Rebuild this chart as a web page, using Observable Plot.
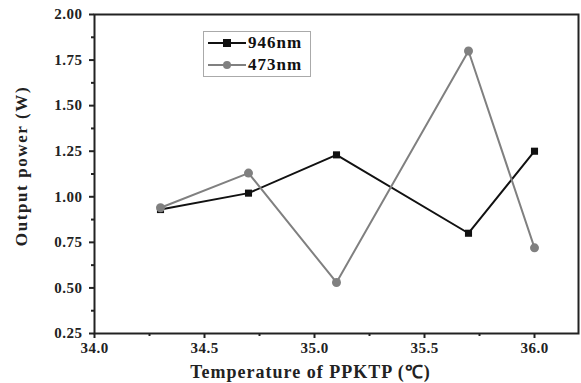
<!DOCTYPE html>
<html><head><meta charset="utf-8">
<script src="https://cdn.jsdelivr.net/npm/d3@7"></script>
<script src="https://cdn.jsdelivr.net/npm/@observablehq/plot@0.6"></script>
<style>
body{margin:0;background:#fff;}
#wrap{position:relative;width:581px;height:383px;font-family:"Liberation Serif","Times New Roman",serif;font-weight:bold;}
#legend{position:absolute;left:203px;top:31px;width:106px;height:44px;border:1px solid #aaa;background:#fff;font-size:17px;color:#111;}
#legend div{display:flex;align-items:center;height:22px;padding-left:2px;}
#legend span{margin-left:0px;letter-spacing:1px;}
</style></head>
<body><div id="wrap"></div>
<script>
const temps = [34.3, 34.7, 35.1, 35.7, 36.0];
const p946 = [0.93, 1.02, 1.23, 0.80, 1.25];
const p473 = [0.94, 1.13, 0.53, 1.80, 0.72];
const seriesNames = ["946nm", "473nm"];
const seriesColors = ["#111111", "#808080"];
const xTicks = [34.0, 34.5, 35.0, 35.5, 36.0];
const xMinor = [34.25, 34.75, 35.25, 35.75];
const yTicks = [0.25, 0.5, 0.75, 1.0, 1.25, 1.5, 1.75, 2.0];
const yMinor = [0.375, 0.625, 0.875, 1.125, 1.375, 1.625, 1.875];

const d946 = temps.map((t,i)=>({t, p:p946[i]}));
const d473 = temps.map((t,i)=>({t, p:p473[i]}));
const blank = () => "";

const chart = Plot.plot({
  width: 581, height: 383,
  marginLeft: 94, marginTop: 14, marginRight: 3, marginBottom: 50,
  style: {fontFamily: '"Liberation Serif","Times New Roman",serif', fontWeight: "bold", fontSize: "15px", color: "#222"},
  x: {domain: [34.0, 36.2]},
  y: {domain: [0.25, 2.0]},
  marks: [
    Plot.frame({stroke: "#222", strokeWidth: 2}),
    Plot.axisX({ticks: xTicks, tickFormat: d3.format(".1f"), tickSize: 5, tickPadding: 4, strokeWidth: 2, fontSize: 15, label: "Temperature of PPKTP (℃)", labelAnchor: "center", labelOffset: 44, labelArrow: "none"}),
    Plot.axisX({ticks: xMinor, tickFormat: blank, tickSize: 3, strokeWidth: 2, label: null}),
    Plot.axisY({ticks: yTicks, tickFormat: d3.format(".2f"), tickSize: 5, tickPadding: 7, strokeWidth: 2, fontSize: 15, label: "Output power (W)", labelAnchor: "center", labelOffset: 80, labelArrow: "none"}),
    Plot.axisY({ticks: yMinor, tickFormat: blank, tickSize: 3, strokeWidth: 2, label: null}),
    Plot.line(d946, {x: "t", y: "p", stroke: seriesColors[0], strokeWidth: 2}),
    Plot.line(d473, {x: "t", y: "p", stroke: seriesColors[1], strokeWidth: 2}),
    Plot.dot(d946, {x: "t", y: "p", symbol: "square", r: 4, fill: seriesColors[0]}),
    Plot.dot(d473, {x: "t", y: "p", symbol: "circle", r: 4.5, fill: seriesColors[1]})
  ]
});
chart.querySelectorAll('[aria-label="x-axis tick label"] text, [aria-label="y-axis tick label"] text').forEach(t=>{t.style.letterSpacing="0.5px";});
chart.querySelectorAll('[aria-label="x-axis label"]').forEach(g=>{
  g.setAttribute("transform", (g.getAttribute("transform")||"") + " translate(-26,0)");
  g.querySelectorAll("text").forEach(t=>{t.style.fontSize="18px"; t.style.letterSpacing="1px";});
});
chart.querySelectorAll('[aria-label="y-axis label"]').forEach(g=>{
  g.querySelectorAll("text").forEach(t=>{t.style.fontSize="17px"; t.style.letterSpacing="1.6px"; t.setAttribute("dx","8");});
});
const wrap = document.getElementById("wrap");
wrap.appendChild(chart);
const leg = document.createElement("div");
leg.id = "legend";
seriesNames.forEach((n,i)=>{
  const row = document.createElement("div");
  const sym = i===0 ? '<rect x="17" y="3" width="8" height="8" fill="'+seriesColors[i]+'"/>' : '<circle cx="21" cy="7" r="4" fill="'+seriesColors[i]+'"/>';
  row.innerHTML = '<svg width="42" height="14"><line x1="2" x2="40" y1="7" y2="7" stroke="'+seriesColors[i]+'" stroke-width="2"/>'+sym+'</svg><span>'+n+'</span>';
  leg.appendChild(row);
});
wrap.appendChild(leg);
</script></body></html>
